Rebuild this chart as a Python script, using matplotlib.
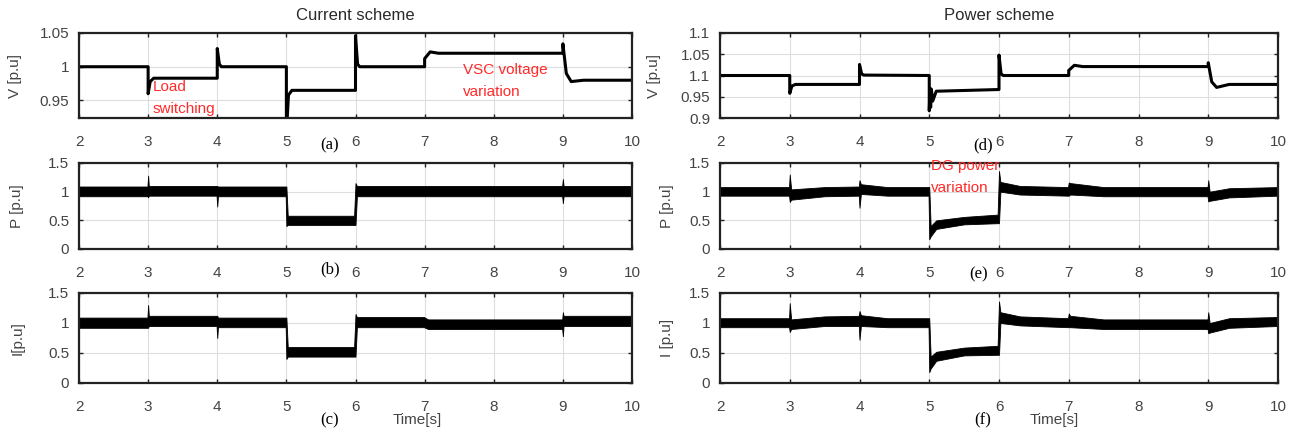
import numpy as np
import matplotlib
matplotlib.use('Agg')
import matplotlib.pyplot as plt

plt.rcParams['font.family'] = ['Liberation Sans', 'DejaVu Sans']

# voltage traces (time, value)
t_vl = [2.0, 3.0, 3.0, 3.03, 3.08, 4.0, 4.0, 4.03, 4.06, 5.0, 5.0, 5.03, 5.08, 6.0, 6.0, 6.03, 6.06,
        7.0, 7.0, 7.08, 7.2, 9.0, 9.0, 9.05, 9.12, 9.3, 10.0]
v_vl = [1.0, 1.0, 0.96, 0.978, 0.983, 0.983, 1.027, 1.004, 1.0, 1.0, 0.90, 0.958, 0.965, 0.965, 1.046, 1.004, 1.0,
        1.0, 1.012, 1.022, 1.02, 1.02, 1.034, 0.99, 0.978, 0.98, 0.98]

t_vr = [2.0, 3.0, 3.0, 3.03, 3.08, 4.0, 4.0, 4.03, 4.06, 5.0, 5.0, 5.01, 5.02, 5.03, 5.05, 5.1, 6.0, 6.0, 6.03, 6.06,
        7.0, 7.0, 7.08, 7.2, 9.0, 9.0, 9.05, 9.12, 9.3, 10.0]
v_vr = [1.0, 1.0, 0.958, 0.975, 0.979, 0.979, 1.026, 1.004, 1.001, 1.0, 0.917, 0.97, 0.925, 0.968, 0.94, 0.963, 0.967,
        1.048, 1.004, 1.0, 1.0, 1.012, 1.024, 1.021, 1.021, 1.03, 0.985, 0.972, 0.979, 0.979]

# power / current traces as noise envelopes (time, upper, lower)
t_pl = [2.0, 2.99, 3.0, 3.01, 3.99, 4.0, 4.01, 4.99, 5.0, 5.02, 5.98, 6.0, 6.02, 8.99, 9.0, 9.01, 10.0]
up_pl = [1.09, 1.09, 1.28, 1.10, 1.10, 1.10, 1.09, 1.09, 1.09, 0.58, 0.58, 1.15, 1.10, 1.10, 1.22, 1.10, 1.10]
lo_pl = [0.92, 0.92, 0.90, 0.93, 0.93, 0.74, 0.92, 0.92, 0.40, 0.42, 0.42, 0.42, 0.92, 0.92, 0.80, 0.92, 0.92]

t_il = [2.0, 2.99, 3.0, 3.01, 3.99, 4.0, 4.01, 4.99, 5.0, 5.02, 5.98, 6.0, 6.02, 6.99, 7.05, 8.99, 9.0, 9.01, 10.0]
up_il = [1.09, 1.09, 1.30, 1.12, 1.12, 1.12, 1.09, 1.09, 1.09, 0.60, 0.60, 1.15, 1.10, 1.10, 1.06, 1.06, 1.18, 1.12, 1.12]
lo_il = [0.92, 0.92, 0.92, 0.95, 0.95, 0.75, 0.93, 0.93, 0.40, 0.44, 0.44, 0.44, 0.93, 0.93, 0.90, 0.90, 0.78, 0.95, 0.95]

t_pr = [2.0, 2.99, 3.0, 3.02, 3.5, 3.99, 4.0, 4.02, 4.4, 4.99, 5.0, 5.02, 5.1, 5.5, 5.98, 6.0, 6.02, 6.3,
        6.99, 7.0, 7.02, 7.5, 8.99, 9.0, 9.02, 9.3, 10.0]
up_pr = [1.08, 1.08, 1.30, 1.04, 1.08, 1.09, 1.20, 1.13, 1.08, 1.08, 1.08, 0.40, 0.50, 0.56, 0.60, 1.36, 1.17, 1.10,
         1.08, 1.16, 1.15, 1.08, 1.08, 1.20, 1.00, 1.06, 1.08]
lo_pr = [0.93, 0.93, 0.82, 0.86, 0.92, 0.93, 0.72, 0.96, 0.93, 0.93, 0.17, 0.22, 0.35, 0.43, 0.45, 0.45, 1.00, 0.95,
         0.93, 0.93, 0.95, 0.92, 0.92, 0.83, 0.84, 0.90, 0.93]

t_ir = [2.0, 2.99, 3.0, 3.02, 3.5, 3.99, 4.0, 4.02, 4.4, 4.99, 5.0, 5.02, 5.1, 5.5, 5.98, 6.0, 6.02, 6.3,
        6.99, 7.0, 7.02, 7.5, 8.99, 9.0, 9.02, 9.3, 10.0]
up_ir = [1.08, 1.08, 1.33, 1.06, 1.11, 1.12, 1.20, 1.13, 1.08, 1.08, 1.08, 0.44, 0.52, 0.59, 0.62, 1.36, 1.18, 1.11,
         1.08, 1.16, 1.12, 1.06, 1.06, 1.18, 1.00, 1.08, 1.10]
lo_ir = [0.93, 0.93, 0.85, 0.90, 0.95, 0.95, 0.72, 0.95, 0.93, 0.93, 0.18, 0.24, 0.37, 0.46, 0.47, 0.47, 1.00, 0.96,
         0.93, 0.93, 0.93, 0.90, 0.90, 0.83, 0.84, 0.92, 0.95]

x_ticks = [2, 3, 4, 5, 6, 7, 8, 9, 10]
vl_ticks = [0.95, 1.0, 1.05]
vl_labels = ['0.95', '1', '1.05']
vr_ticks = [0.9, 0.95, 1.0, 1.05, 1.1]
vr_labels = ['0.9', '0.95', '1.1', '1.05', '1.1']
pq_ticks = [0, 0.5, 1.0, 1.5]
pq_labels = ['0', '0.5', '1', '1.5']

W, H = 1302, 434
fig = plt.figure(figsize=(W / 100, H / 100), dpi=100)


def make_ax(x0, x1, y0, y1):
    ax = fig.add_axes([x0 / W, 1 - y1 / H, (x1 - x0) / W, (y1 - y0) / H])
    ax.set_xlim(2, 10)
    ax.set_xticks(x_ticks)
    ax.grid(True, color='#dedede', lw=0.8)
    ax.set_axisbelow(True)
    ax.tick_params(direction='in', length=3, width=1, top=True, right=True,
                   labelsize=11, labelcolor='#444444', color='#222222')
    ax.tick_params(axis='x', pad=12)
    ax.tick_params(axis='y', pad=7)
    for s in ax.spines.values():
        s.set_linewidth(1.6)
        s.set_color('#222222')
    return ax


def ylab(ax, text, xpx, x0, x1):
    ax.set_ylabel(text, fontsize=11, color='#444444')
    ax.yaxis.set_label_coords((xpx - x0) / (x1 - x0), 0.5)


LX0, LX1 = 79, 632
RX0, RX1 = 720, 1278
rows = [(33, 118), (163, 249), (293, 383)]
red = '#ff2a2a'

# left column: current scheme
ax = make_ax(LX0, LX1, *rows[0])
ax.plot(t_vl, v_vl, color='black', lw=2.2)
ax.set_ylim(0.924, 1.05)
ax.set_yticks(vl_ticks, vl_labels)
ylab(ax, 'V [p.u]', 22, LX0, LX1)
ax.set_title('Current scheme', fontsize=12, color='#2a2a2a', pad=9)
ax.text(3.07, 0.97, 'Load', color=red, fontsize=11, va='center')
ax.text(3.07, 0.938, 'switching', color=red, fontsize=11, va='center')
ax.text(7.55, 0.995, 'VSC voltage', color=red, fontsize=11, va='center')
ax.text(7.55, 0.963, 'variation', color=red, fontsize=11, va='center')
ax.text(5.63, -0.32, '(a)', transform=ax.get_xaxis_transform(), fontsize=12,
        family='Liberation Serif', ha='center', va='center')

ax = make_ax(LX0, LX1, *rows[1])
ax.fill_between(t_pl, lo_pl, up_pl, color='black', lw=0.6)
ax.set_ylim(0, 1.5)
ax.set_yticks(pq_ticks, pq_labels)
ylab(ax, 'P [p.u]', 24, LX0, LX1)
ax.text(5.63, -0.24, '(b)', transform=ax.get_xaxis_transform(), fontsize=12,
        family='Liberation Serif', ha='center', va='center')

ax = make_ax(LX0, LX1, *rows[2])
ax.fill_between(t_il, lo_il, up_il, color='black', lw=0.6)
ax.set_ylim(0, 1.5)
ax.set_yticks(pq_ticks, pq_labels)
ylab(ax, 'I[p.u]', 25, LX0, LX1)
ax.text(5.63, -0.41, '(c)', transform=ax.get_xaxis_transform(), fontsize=12,
        family='Liberation Serif', ha='center', va='center')
ax.text(6.9, -0.41, 'Time[s]', transform=ax.get_xaxis_transform(), fontsize=11,
        color='#444444', ha='center', va='center')

# right column: power scheme
ax = make_ax(RX0, RX1, *rows[0])
ax.plot(t_vr, v_vr, color='black', lw=2.2)
ax.set_ylim(0.9, 1.1)
ax.set_yticks(vr_ticks, vr_labels)
ylab(ax, 'V [p.u]', 661, RX0, RX1)
ax.set_title('Power scheme', fontsize=12, color='#2a2a2a', pad=9)
ax.text(5.77, -0.32, '(d)', transform=ax.get_xaxis_transform(), fontsize=12,
        family='Liberation Serif', ha='center', va='center')

ax = make_ax(RX0, RX1, *rows[1])
ax.fill_between(t_pr, lo_pr, up_pr, color='black', lw=0.6)
ax.set_ylim(0, 1.5)
ax.set_yticks(pq_ticks, pq_labels)
ylab(ax, 'P [p.u]', 674, RX0, RX1)
ax.text(5.03, 1.44, 'DG power', color=red, fontsize=11, va='center')
ax.text(5.03, 1.06, 'variation', color=red, fontsize=11, va='center')
ax.text(5.7, -0.3, '(e)', transform=ax.get_xaxis_transform(), fontsize=12,
        family='Liberation Serif', ha='center', va='center')

ax = make_ax(RX0, RX1, *rows[2])
ax.fill_between(t_ir, lo_ir, up_ir, color='black', lw=0.6)
ax.set_ylim(0, 1.5)
ax.set_yticks(pq_ticks, pq_labels)
ylab(ax, 'I [p.u]', 674, RX0, RX1)
ax.text(5.77, -0.41, '(f)', transform=ax.get_xaxis_transform(), fontsize=12,
        family='Liberation Serif', ha='center', va='center')
ax.text(6.79, -0.41, 'Time[s]', transform=ax.get_xaxis_transform(), fontsize=11,
        color='#444444', ha='center', va='center')

fig.savefig('out.png', dpi=100)
